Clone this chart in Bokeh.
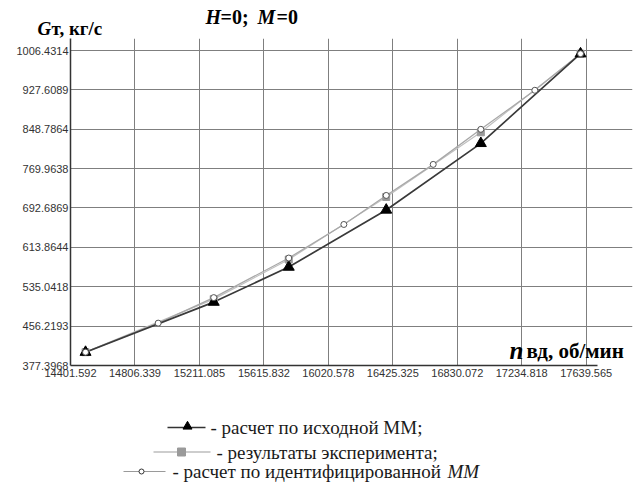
from bokeh.plotting import figure
from bokeh.models import Range1d, FixedTicker, Label
from bokeh.layouts import column
from bokeh.core.properties import value
from bokeh.embed import file_html
from bokeh.resources import INLINE

# ---- data ----
x_ticks = [14401.592, 14806.339, 15211.085, 15615.832, 16020.578, 16425.325, 16830.072, 17234.818, 17639.565]
x_tick_labels = ["14401.592", "14806.339", "15211.085", "15615.832", "16020.578", "16425.325", "16830.072", "17234.818", "17639.565"]
y_ticks = [377.3968, 456.2193, 535.0418, 613.8644, 692.6869, 769.9638, 848.7864, 927.6089, 1006.4314]
y_tick_labels = ["377.3968", "456.2193", "535.0418", "613.8644", "692.6869", "769.9638", "848.7864", "927.6089", "1006.4314"]

# расчет по исходной ММ
x_mm = [14496, 15301, 15772, 16384, 16978, 17604]
y_mm = [404, 504, 574, 688, 821, 1000]
# результаты эксперимента
x_exp = [14496, 15301, 15772, 16384, 16978, 17604]
y_exp = [404, 510, 589, 714, 843, 1000]
# расчет по идентифицированной ММ
x_id = [14496, 14952, 15301, 15772, 16118, 16384, 16679, 16978, 17317, 17604]
y_id = [404, 462, 513, 592, 659, 717, 779, 849, 927, 1000]

legend_texts = ["- расчет по исходной ММ;", "- результаты эксперимента;", "- расчет по идентифицированной"]

SERIF = "Liberation Serif"
SANS = "Liberation Sans"
W = 636
DESC = 0.22  # baseline correction (fraction of font size)

X0, X_GRID_END, X_FRAME_END = 14401.592, 17710.54, 17930.3
Y0, Y1 = 377.3968, 1030.4

# ---- top strip with headings ----
top = figure(width=W, height=38, output_backend="svg", toolbar_location=None,
             x_range=Range1d(0, W), y_range=Range1d(38, 0),
             x_axis_location=None, y_axis_location=None, min_border=0,
             background_fill_color="white", border_fill_color="white", frame_align=False)
top.outline_line_color = None
top.grid.visible = False


def ttext(fig, x, base, t, size, style, align="left", color="black"):
    fig.text(x=[x], y=[base - DESC * size], text=[t], text_font=value(SERIF), text_font_size=f"{size}px",
             text_font_style=style, text_color=color, text_baseline="alphabetic", text_align=align)


ttext(top, 205, 21, "H", 20, "bold italic")
ttext(top, 220, 21, "=0;", 20, "bold")
ttext(top, 257, 21, "M", 20, "bold italic")
ttext(top, 276, 21, "=0", 20, "bold")
ttext(top, 37, 32.5, "G", 19, "bold italic")
ttext(top, 51, 32.5, "т, кг/с", 19, "bold")

# ---- main chart ----
p = figure(width=W, height=350, output_backend="svg", toolbar_location=None,
           x_range=Range1d(X0, X_FRAME_END), y_range=Range1d(Y0, Y1),
           min_border_left=70, min_border_right=4, min_border_top=0, min_border_bottom=23,
           background_fill_color="white", border_fill_color="white", frame_align=False)
p.outline_line_color = None

p.xaxis.ticker = FixedTicker(ticks=x_ticks)
p.yaxis.ticker = FixedTicker(ticks=y_ticks)
p.xaxis.major_label_overrides = {t: l for t, l in zip(x_ticks, x_tick_labels)}
p.yaxis.major_label_overrides = {t: l for t, l in zip(y_ticks, y_tick_labels)}
for ax in (p.xaxis, p.yaxis):
    ax.major_tick_out = 0
    ax.major_tick_in = 0
    ax.minor_tick_out = 0
    ax.minor_tick_in = 0
    ax.axis_line_color = "#333333"
    ax.axis_line_width = 1.5
    ax.major_label_text_font = SANS
    ax.major_label_text_font_size = "11px"
    ax.major_label_text_color = "#333333"
p.xaxis.major_label_standoff = 3
p.yaxis.major_label_standoff = 2
p.xaxis.bounds = (X0, X_GRID_END)

p.grid.grid_line_color = "#7f7f7f"
p.grid.grid_line_width = 1
p.grid.grid_line_alpha = 1.0
p.ygrid.bounds = (X0, X_GRID_END)

p.line(x_exp, y_exp, line_color="#c0c0c0", line_width=1.2)
p.line(x_id, y_id, line_color="#a8a8a8", line_width=1.3)
p.line(x_mm, y_mm, line_color="#3a3a3a", line_width=1.7)
p.scatter(x_exp, y_exp, marker="square", size=7, fill_color="#9a9a9a", line_color="#9a9a9a")
p.scatter(x_mm, y_mm, marker="triangle", size=11, fill_color="black", line_color="black")
p.scatter(x_id, y_id, marker="circle", size=6, fill_color="white", line_color="#555555", line_width=1)

FRAME_L, FRAME_B = 70, 365  # page coords of the frame's bottom-left


def lab(px, base, text, size, style):
    p.add_layout(Label(x=px - FRAME_L, y=FRAME_B - (base - DESC * size), x_units="screen", y_units="screen",
                       text=text, text_font=SERIF, text_font_size=f"{size}px", text_font_style=style,
                       text_color="black", text_baseline="alphabetic", text_align="left"))


lab(509, 355, "n", 25, "bold italic")
lab(526, 355, "вд, об/мин", 21, "bold")

# ---- legend below ----
p2 = figure(width=W, height=95, output_backend="svg", toolbar_location=None,
            x_range=Range1d(0, W), y_range=Range1d(483, 388),
            x_axis_location=None, y_axis_location=None,
            min_border=0, background_fill_color="white", border_fill_color="white", frame_align=False)
p2.outline_line_color = None
p2.grid.visible = False

rows_y = [427, 451.5, 471]
base_y = [431.5, 456, 475]
LS = 19
# row 1
p2.line([167, 205], [rows_y[0]] * 2, line_color="#333333", line_width=1.7)
p2.scatter([187], [rows_y[0] - 1], marker="triangle", size=9, fill_color="black", line_color="black")
# row 2
p2.line([153, 210], [rows_y[1]] * 2, line_color="#bdbdbd", line_width=1.3)
p2.scatter([181], [rows_y[1]], marker="square", size=8, fill_color="#9a9a9a", line_color="#9a9a9a")
# row 3
p2.line([123, 165], [rows_y[2]] * 2, line_color="#9a9a9a", line_width=1.2)
p2.scatter([141], [rows_y[2]], marker="circle", size=5, fill_color="white", line_color="#333333", line_width=1)

p2.text(x=[210, 216, 172], y=[b - DESC * LS for b in base_y], text=legend_texts,
        text_font=value(SERIF), text_font_size=f"{LS}px", text_color="#1a1a1a",
        text_baseline="alphabetic", text_align="left")
p2.text(x=[447], y=[base_y[2] - DESC * LS], text=["ММ"], text_font=value(SERIF), text_font_size=f"{LS}px",
        text_font_style="italic", text_color="#1a1a1a", text_baseline="alphabetic", text_align="left")

layout = column(top, p, p2)
open("out.html", "w").write(file_html(layout, INLINE))
